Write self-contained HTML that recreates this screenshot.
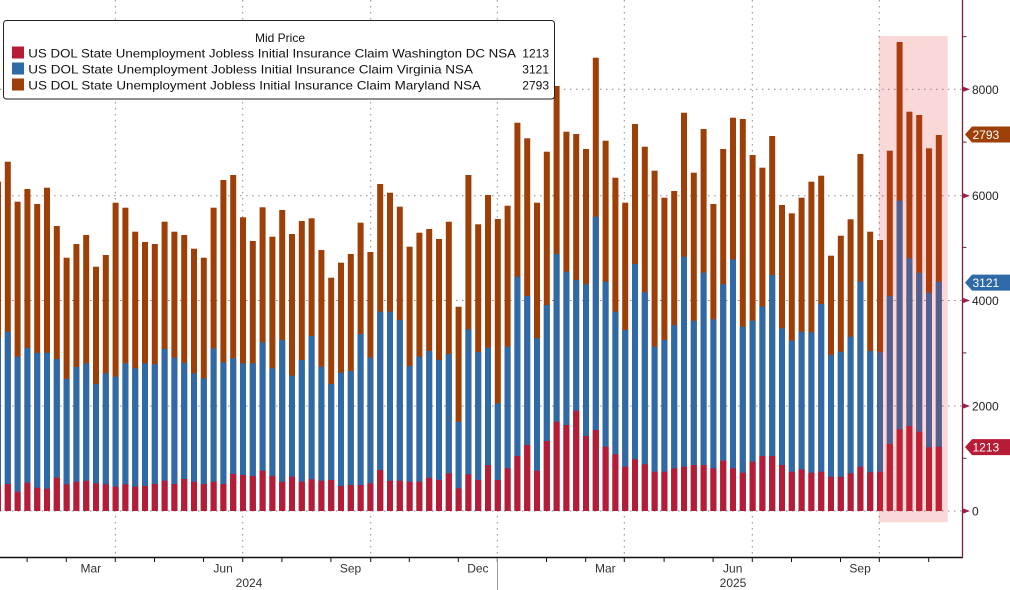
<!DOCTYPE html>
<html><head><meta charset="utf-8"><style>
html,body{margin:0;padding:0;background:#fff;}
svg{display:block;font-family:"Liberation Sans","DejaVu Sans",sans-serif;}
</style></head><body>
<svg width="1010" height="590" viewBox="0 0 1010 590" xmlns="http://www.w3.org/2000/svg">
<rect x="0" y="0" width="1010" height="590" fill="#fff"/>
<!-- gridlines -->
<g stroke="#8a8a8a" stroke-width="1" stroke-dasharray="1.5,4.5" fill="none">
<line x1="0" y1="89.3" x2="962" y2="89.3"/>
<line x1="0" y1="195.7" x2="962" y2="195.7"/>
<line x1="0" y1="300.5" x2="962" y2="300.5"/>
<line x1="0" y1="406" x2="962" y2="406"/>
<line x1="0" y1="511" x2="962" y2="511"/>
<line x1="115.3" y1="0" x2="115.3" y2="557"/>
<line x1="242.7" y1="0" x2="242.7" y2="557"/>
<line x1="370.7" y1="0" x2="370.7" y2="557"/>
<line x1="497.3" y1="0" x2="497.3" y2="557"/>
<line x1="624.3" y1="0" x2="624.3" y2="557"/>
<line x1="752.3" y1="0" x2="752.3" y2="557"/>
<line x1="879.3" y1="0" x2="879.3" y2="557"/>
</g>
<!-- Maryland (orange) full stacks -->
<g fill="#9e3f07">
<rect x="-5" y="181.7" width="6" height="329.3"/>
<rect x="4.8" y="161.7" width="6" height="349.3"/>
<rect x="14.6" y="201.7" width="6" height="309.3"/>
<rect x="24.4" y="189" width="6" height="322"/>
<rect x="34.2" y="204" width="6" height="307"/>
<rect x="44" y="187.7" width="6" height="323.3"/>
<rect x="53.8" y="226" width="6" height="285"/>
<rect x="63.6" y="257.7" width="6" height="253.3"/>
<rect x="73.4" y="244" width="6" height="267"/>
<rect x="83.2" y="235" width="6" height="276"/>
<rect x="93" y="266.7" width="6" height="244.3"/>
<rect x="102.8" y="255" width="6" height="256"/>
<rect x="112.6" y="202.7" width="6" height="308.3"/>
<rect x="122.4" y="207.7" width="6" height="303.3"/>
<rect x="132.2" y="231.7" width="6" height="279.3"/>
<rect x="142" y="242" width="6" height="269"/>
<rect x="151.8" y="244" width="6" height="267"/>
<rect x="161.6" y="221.7" width="6" height="289.3"/>
<rect x="171.4" y="231.7" width="6" height="279.3"/>
<rect x="181.2" y="235" width="6" height="276"/>
<rect x="191" y="248.7" width="6" height="262.3"/>
<rect x="200.8" y="257.7" width="6" height="253.3"/>
<rect x="210.6" y="207.7" width="6" height="303.3"/>
<rect x="220.4" y="180" width="6" height="331"/>
<rect x="230.2" y="175" width="6" height="336"/>
<rect x="240" y="217.3" width="6" height="293.7"/>
<rect x="249.8" y="241" width="6" height="270"/>
<rect x="259.6" y="207.3" width="6" height="303.7"/>
<rect x="269.4" y="236.7" width="6" height="274.3"/>
<rect x="279.2" y="210" width="6" height="301"/>
<rect x="289" y="234" width="6" height="277"/>
<rect x="298.8" y="221" width="6" height="290"/>
<rect x="308.6" y="218.3" width="6" height="292.7"/>
<rect x="318.4" y="250" width="6" height="261"/>
<rect x="328.2" y="277.7" width="6" height="233.3"/>
<rect x="338" y="262.7" width="6" height="248.3"/>
<rect x="347.8" y="254" width="6" height="257"/>
<rect x="357.6" y="222.7" width="6" height="288.3"/>
<rect x="367.4" y="252" width="6" height="259"/>
<rect x="377.2" y="184" width="6" height="327"/>
<rect x="387" y="192.7" width="6" height="318.3"/>
<rect x="396.8" y="206.7" width="6" height="304.3"/>
<rect x="406.6" y="246.7" width="6" height="264.3"/>
<rect x="416.4" y="232.7" width="6" height="278.3"/>
<rect x="426.2" y="229" width="6" height="282"/>
<rect x="436" y="239" width="6" height="272"/>
<rect x="445.8" y="221.7" width="6" height="289.3"/>
<rect x="455.6" y="306.7" width="6" height="204.3"/>
<rect x="465.4" y="175" width="6" height="336"/>
<rect x="475.2" y="224.3" width="6" height="286.7"/>
<rect x="485" y="195" width="6" height="316"/>
<rect x="494.8" y="219" width="6" height="292"/>
<rect x="504.6" y="205.7" width="6" height="305.3"/>
<rect x="514.4" y="122.7" width="6" height="388.3"/>
<rect x="524.2" y="138.3" width="6" height="372.7"/>
<rect x="534" y="202.7" width="6" height="308.3"/>
<rect x="543.8" y="151.7" width="6" height="359.3"/>
<rect x="553.6" y="86" width="6" height="425"/>
<rect x="563.4" y="131.7" width="6" height="379.3"/>
<rect x="573.2" y="134" width="6" height="377"/>
<rect x="583" y="149" width="6" height="362"/>
<rect x="592.8" y="57.7" width="6" height="453.3"/>
<rect x="602.6" y="140.7" width="6" height="370.3"/>
<rect x="612.4" y="177.7" width="6" height="333.3"/>
<rect x="622.2" y="202.7" width="6" height="308.3"/>
<rect x="632" y="124" width="6" height="387"/>
<rect x="641.8" y="146.7" width="6" height="364.3"/>
<rect x="651.6" y="170.7" width="6" height="340.3"/>
<rect x="661.4" y="197.7" width="6" height="313.3"/>
<rect x="671.2" y="191" width="6" height="320"/>
<rect x="681" y="112.7" width="6" height="398.3"/>
<rect x="690.8" y="172.7" width="6" height="338.3"/>
<rect x="700.6" y="129" width="6" height="382"/>
<rect x="710.4" y="204" width="6" height="307"/>
<rect x="720.2" y="149" width="6" height="362"/>
<rect x="730" y="117.7" width="6" height="393.3"/>
<rect x="739.8" y="119" width="6" height="392"/>
<rect x="749.6" y="155" width="6" height="356"/>
<rect x="759.4" y="167.7" width="6" height="343.3"/>
<rect x="769.2" y="136" width="6" height="375"/>
<rect x="779" y="205" width="6" height="306"/>
<rect x="788.8" y="213.3" width="6" height="297.7"/>
<rect x="798.6" y="197.7" width="6" height="313.3"/>
<rect x="808.4" y="181.7" width="6" height="329.3"/>
<rect x="818.2" y="175.7" width="6" height="335.3"/>
<rect x="828" y="255.7" width="6" height="255.3"/>
<rect x="837.8" y="235.7" width="6" height="275.3"/>
<rect x="847.6" y="219.3" width="6" height="291.7"/>
<rect x="857.4" y="154" width="6" height="357"/>
<rect x="867.2" y="231.7" width="6" height="279.3"/>
<rect x="877" y="240" width="6" height="271"/>
<rect x="886.8" y="150.7" width="6" height="360.3"/>
<rect x="896.6" y="42" width="6" height="469"/>
<rect x="906.4" y="111.7" width="6" height="399.3"/>
<rect x="916.2" y="115" width="6" height="396"/>
<rect x="926" y="148.3" width="6" height="362.7"/>
<rect x="935.8" y="135" width="6" height="376"/>
</g>
<!-- Virginia (blue) -->
<g fill="#2f6aa8">
<rect x="-5" y="338.3" width="6" height="172.7"/>
<rect x="4.8" y="331.7" width="6" height="179.3"/>
<rect x="14.6" y="356.7" width="6" height="154.3"/>
<rect x="24.4" y="348" width="6" height="163"/>
<rect x="34.2" y="352.7" width="6" height="158.3"/>
<rect x="44" y="352.7" width="6" height="158.3"/>
<rect x="53.8" y="359" width="6" height="152"/>
<rect x="63.6" y="379" width="6" height="132"/>
<rect x="73.4" y="367" width="6" height="144"/>
<rect x="83.2" y="363.3" width="6" height="147.7"/>
<rect x="93" y="384" width="6" height="127"/>
<rect x="102.8" y="373.3" width="6" height="137.7"/>
<rect x="112.6" y="376.7" width="6" height="134.3"/>
<rect x="122.4" y="363.3" width="6" height="147.7"/>
<rect x="132.2" y="368.3" width="6" height="142.7"/>
<rect x="142" y="363.3" width="6" height="147.7"/>
<rect x="151.8" y="364.3" width="6" height="146.7"/>
<rect x="161.6" y="349" width="6" height="162"/>
<rect x="171.4" y="357.7" width="6" height="153.3"/>
<rect x="181.2" y="362.7" width="6" height="148.3"/>
<rect x="191" y="373.3" width="6" height="137.7"/>
<rect x="200.8" y="378.3" width="6" height="132.7"/>
<rect x="210.6" y="348.3" width="6" height="162.7"/>
<rect x="220.4" y="362.3" width="6" height="148.7"/>
<rect x="230.2" y="358.3" width="6" height="152.7"/>
<rect x="240" y="363.3" width="6" height="147.7"/>
<rect x="249.8" y="363.3" width="6" height="147.7"/>
<rect x="259.6" y="342.3" width="6" height="168.7"/>
<rect x="269.4" y="368.3" width="6" height="142.7"/>
<rect x="279.2" y="340" width="6" height="171"/>
<rect x="289" y="375.7" width="6" height="135.3"/>
<rect x="298.8" y="360" width="6" height="151"/>
<rect x="308.6" y="336" width="6" height="175"/>
<rect x="318.4" y="366.7" width="6" height="144.3"/>
<rect x="328.2" y="384" width="6" height="127"/>
<rect x="338" y="372.7" width="6" height="138.3"/>
<rect x="347.8" y="371" width="6" height="140"/>
<rect x="357.6" y="334" width="6" height="177"/>
<rect x="367.4" y="357.7" width="6" height="153.3"/>
<rect x="377.2" y="311.7" width="6" height="199.3"/>
<rect x="387" y="311.7" width="6" height="199.3"/>
<rect x="396.8" y="320" width="6" height="191"/>
<rect x="406.6" y="366" width="6" height="145"/>
<rect x="416.4" y="356.7" width="6" height="154.3"/>
<rect x="426.2" y="351" width="6" height="160"/>
<rect x="436" y="360" width="6" height="151"/>
<rect x="445.8" y="354" width="6" height="157"/>
<rect x="455.6" y="421.7" width="6" height="89.3"/>
<rect x="465.4" y="329.3" width="6" height="181.7"/>
<rect x="475.2" y="352" width="6" height="159"/>
<rect x="485" y="347.7" width="6" height="163.3"/>
<rect x="494.8" y="403.3" width="6" height="107.7"/>
<rect x="504.6" y="346.7" width="6" height="164.3"/>
<rect x="514.4" y="276.7" width="6" height="234.3"/>
<rect x="524.2" y="296" width="6" height="215"/>
<rect x="534" y="338.3" width="6" height="172.7"/>
<rect x="543.8" y="305" width="6" height="206"/>
<rect x="553.6" y="254" width="6" height="257"/>
<rect x="563.4" y="271.7" width="6" height="239.3"/>
<rect x="573.2" y="280" width="6" height="231"/>
<rect x="583" y="284.3" width="6" height="226.7"/>
<rect x="592.8" y="216.7" width="6" height="294.3"/>
<rect x="602.6" y="281.7" width="6" height="229.3"/>
<rect x="612.4" y="311.7" width="6" height="199.3"/>
<rect x="622.2" y="330" width="6" height="181"/>
<rect x="632" y="264" width="6" height="247"/>
<rect x="641.8" y="292.3" width="6" height="218.7"/>
<rect x="651.6" y="346.7" width="6" height="164.3"/>
<rect x="661.4" y="340" width="6" height="171"/>
<rect x="671.2" y="325" width="6" height="186"/>
<rect x="681" y="256.7" width="6" height="254.3"/>
<rect x="690.8" y="320.7" width="6" height="190.3"/>
<rect x="700.6" y="272.7" width="6" height="238.3"/>
<rect x="710.4" y="319.3" width="6" height="191.7"/>
<rect x="720.2" y="284.3" width="6" height="226.7"/>
<rect x="730" y="259.3" width="6" height="251.7"/>
<rect x="739.8" y="326.7" width="6" height="184.3"/>
<rect x="749.6" y="320.7" width="6" height="190.3"/>
<rect x="759.4" y="306.7" width="6" height="204.3"/>
<rect x="769.2" y="275" width="6" height="236"/>
<rect x="779" y="328.3" width="6" height="182.7"/>
<rect x="788.8" y="340.7" width="6" height="170.3"/>
<rect x="798.6" y="331.7" width="6" height="179.3"/>
<rect x="808.4" y="332.3" width="6" height="178.7"/>
<rect x="818.2" y="304" width="6" height="207"/>
<rect x="828" y="355" width="6" height="156"/>
<rect x="837.8" y="351.7" width="6" height="159.3"/>
<rect x="847.6" y="336.7" width="6" height="174.3"/>
<rect x="857.4" y="281.7" width="6" height="229.3"/>
<rect x="867.2" y="351" width="6" height="160"/>
<rect x="877" y="352.3" width="6" height="158.7"/>
<rect x="886.8" y="296" width="6" height="215"/>
<rect x="896.6" y="200.7" width="6" height="310.3"/>
<rect x="906.4" y="258.3" width="6" height="252.7"/>
<rect x="916.2" y="272.7" width="6" height="238.3"/>
<rect x="926" y="292.7" width="6" height="218.3"/>
<rect x="935.8" y="281.7" width="6" height="229.3"/>
</g>
<!-- Washington DC (red) -->
<g fill="#b71c36">
<rect x="-5" y="485" width="6" height="26"/>
<rect x="4.8" y="484" width="6" height="27"/>
<rect x="14.6" y="491.7" width="6" height="19.3"/>
<rect x="24.4" y="482.7" width="6" height="28.3"/>
<rect x="34.2" y="487.7" width="6" height="23.3"/>
<rect x="44" y="488.7" width="6" height="22.3"/>
<rect x="53.8" y="477.7" width="6" height="33.3"/>
<rect x="63.6" y="484.3" width="6" height="26.7"/>
<rect x="73.4" y="481.7" width="6" height="29.3"/>
<rect x="83.2" y="480.7" width="6" height="30.3"/>
<rect x="93" y="483.3" width="6" height="27.7"/>
<rect x="102.8" y="484.3" width="6" height="26.7"/>
<rect x="112.6" y="486.7" width="6" height="24.3"/>
<rect x="122.4" y="484.3" width="6" height="26.7"/>
<rect x="132.2" y="486.7" width="6" height="24.3"/>
<rect x="142" y="486" width="6" height="25"/>
<rect x="151.8" y="484" width="6" height="27"/>
<rect x="161.6" y="480.7" width="6" height="30.3"/>
<rect x="171.4" y="484" width="6" height="27"/>
<rect x="181.2" y="479" width="6" height="32"/>
<rect x="191" y="481.7" width="6" height="29.3"/>
<rect x="200.8" y="484" width="6" height="27"/>
<rect x="210.6" y="481.7" width="6" height="29.3"/>
<rect x="220.4" y="484" width="6" height="27"/>
<rect x="230.2" y="474" width="6" height="37"/>
<rect x="240" y="475" width="6" height="36"/>
<rect x="249.8" y="476" width="6" height="35"/>
<rect x="259.6" y="470.7" width="6" height="40.3"/>
<rect x="269.4" y="476" width="6" height="35"/>
<rect x="279.2" y="481.7" width="6" height="29.3"/>
<rect x="289" y="476.7" width="6" height="34.3"/>
<rect x="298.8" y="481.7" width="6" height="29.3"/>
<rect x="308.6" y="479.3" width="6" height="31.7"/>
<rect x="318.4" y="480.7" width="6" height="30.3"/>
<rect x="328.2" y="480" width="6" height="31"/>
<rect x="338" y="486" width="6" height="25"/>
<rect x="347.8" y="485" width="6" height="26"/>
<rect x="357.6" y="485" width="6" height="26"/>
<rect x="367.4" y="483.3" width="6" height="27.7"/>
<rect x="377.2" y="470" width="6" height="41"/>
<rect x="387" y="480.7" width="6" height="30.3"/>
<rect x="396.8" y="480.7" width="6" height="30.3"/>
<rect x="406.6" y="481.7" width="6" height="29.3"/>
<rect x="416.4" y="481.7" width="6" height="29.3"/>
<rect x="426.2" y="477.7" width="6" height="33.3"/>
<rect x="436" y="480" width="6" height="31"/>
<rect x="445.8" y="473.3" width="6" height="37.7"/>
<rect x="455.6" y="488.3" width="6" height="22.7"/>
<rect x="465.4" y="474.3" width="6" height="36.7"/>
<rect x="475.2" y="480" width="6" height="31"/>
<rect x="485" y="465" width="6" height="46"/>
<rect x="494.8" y="480" width="6" height="31"/>
<rect x="504.6" y="468.3" width="6" height="42.7"/>
<rect x="514.4" y="456" width="6" height="55"/>
<rect x="524.2" y="445" width="6" height="66"/>
<rect x="534" y="470.7" width="6" height="40.3"/>
<rect x="543.8" y="441" width="6" height="70"/>
<rect x="553.6" y="421.7" width="6" height="89.3"/>
<rect x="563.4" y="425" width="6" height="86"/>
<rect x="573.2" y="410.7" width="6" height="100.3"/>
<rect x="583" y="436" width="6" height="75"/>
<rect x="592.8" y="430" width="6" height="81"/>
<rect x="602.6" y="446.7" width="6" height="64.3"/>
<rect x="612.4" y="454.3" width="6" height="56.7"/>
<rect x="622.2" y="466.7" width="6" height="44.3"/>
<rect x="632" y="459.3" width="6" height="51.7"/>
<rect x="641.8" y="464.3" width="6" height="46.7"/>
<rect x="651.6" y="471.7" width="6" height="39.3"/>
<rect x="661.4" y="471.7" width="6" height="39.3"/>
<rect x="671.2" y="468.3" width="6" height="42.7"/>
<rect x="681" y="466.7" width="6" height="44.3"/>
<rect x="690.8" y="465" width="6" height="46"/>
<rect x="700.6" y="465" width="6" height="46"/>
<rect x="710.4" y="468.3" width="6" height="42.7"/>
<rect x="720.2" y="460.7" width="6" height="50.3"/>
<rect x="730" y="468.3" width="6" height="42.7"/>
<rect x="739.8" y="472.7" width="6" height="38.3"/>
<rect x="749.6" y="461.7" width="6" height="49.3"/>
<rect x="759.4" y="456" width="6" height="55"/>
<rect x="769.2" y="456" width="6" height="55"/>
<rect x="779" y="465" width="6" height="46"/>
<rect x="788.8" y="471.7" width="6" height="39.3"/>
<rect x="798.6" y="469.3" width="6" height="41.7"/>
<rect x="808.4" y="472.7" width="6" height="38.3"/>
<rect x="818.2" y="471.7" width="6" height="39.3"/>
<rect x="828" y="476.7" width="6" height="34.3"/>
<rect x="837.8" y="476.7" width="6" height="34.3"/>
<rect x="847.6" y="473.3" width="6" height="37.7"/>
<rect x="857.4" y="466.7" width="6" height="44.3"/>
<rect x="867.2" y="472.3" width="6" height="38.7"/>
<rect x="877" y="471.7" width="6" height="39.3"/>
<rect x="886.8" y="444" width="6" height="67"/>
<rect x="896.6" y="429.3" width="6" height="81.7"/>
<rect x="906.4" y="426" width="6" height="85"/>
<rect x="916.2" y="431.7" width="6" height="79.3"/>
<rect x="926" y="447.3" width="6" height="63.7"/>
<rect x="935.8" y="446.7" width="6" height="64.3"/>
</g>
<!-- highlight shading -->
<rect x="878.7" y="36" width="69" height="486.3" fill="rgb(232,50,50)" fill-opacity="0.19"/>
<!-- legend -->
<rect x="3.5" y="20.5" width="551" height="78.5" rx="3" ry="3" fill="#fff" stroke="#222" stroke-width="1"/>
<text x="280" y="42" font-size="12" fill="#111" text-anchor="middle">Mid Price</text>
<rect x="12" y="46.5" width="12" height="12" fill="#b71c36"/>
<rect x="12" y="62.5" width="12" height="12" fill="#2f6aa8"/>
<rect x="12" y="78.5" width="12" height="12" fill="#9e3f07"/>
<g font-size="12" fill="#111">
<text x="28.3" y="57.3" textLength="487.7" lengthAdjust="spacingAndGlyphs">US DOL State Unemployment Jobless Initial Insurance Claim Washington DC NSA</text>
<text x="28.3" y="73.3" textLength="444.7" lengthAdjust="spacingAndGlyphs">US DOL State Unemployment Jobless Initial Insurance Claim Virginia NSA</text>
<text x="28.3" y="89.3" textLength="452.7" lengthAdjust="spacingAndGlyphs">US DOL State Unemployment Jobless Initial Insurance Claim Maryland NSA</text>
<text x="549" y="57.3" text-anchor="end">1213</text>
<text x="549" y="73.3" text-anchor="end">3121</text>
<text x="549" y="89.3" text-anchor="end">2793</text>
</g>
<!-- axes -->
<line x1="0" y1="557.5" x2="963" y2="557.5" stroke="#111" stroke-width="1.5"/>
<line x1="962.5" y1="0" x2="962.5" y2="558" stroke="#7a1f40" stroke-width="1.3"/>
<!-- bottom ticks -->
<g stroke="#111" stroke-width="1">
<line x1="27.1" y1="557" x2="27.1" y2="562"/>
<line x1="66.3" y1="557" x2="66.3" y2="562"/>
<line x1="115.3" y1="557" x2="115.3" y2="562"/>
<line x1="154.5" y1="557" x2="154.5" y2="562"/>
<line x1="203.5" y1="557" x2="203.5" y2="562"/>
<line x1="242.7" y1="557" x2="242.7" y2="562"/>
<line x1="281.9" y1="557" x2="281.9" y2="562"/>
<line x1="330.9" y1="557" x2="330.9" y2="562"/>
<line x1="370.7" y1="557" x2="370.7" y2="562"/>
<line x1="409.3" y1="557" x2="409.3" y2="562"/>
<line x1="458.3" y1="557" x2="458.3" y2="562"/>
<line x1="497.3" y1="557" x2="497.3" y2="562"/>
<line x1="546.5" y1="557" x2="546.5" y2="562"/>
<line x1="585.7" y1="557" x2="585.7" y2="562"/>
<line x1="624.3" y1="557" x2="624.3" y2="562"/>
<line x1="664.1" y1="557" x2="664.1" y2="562"/>
<line x1="713.1" y1="557" x2="713.1" y2="562"/>
<line x1="752.3" y1="557" x2="752.3" y2="562"/>
<line x1="791.5" y1="557" x2="791.5" y2="562"/>
<line x1="840.5" y1="557" x2="840.5" y2="562"/>
<line x1="879.3" y1="557" x2="879.3" y2="562"/>
<line x1="928.7" y1="557" x2="928.7" y2="562"/>
</g>
<line x1="497.5" y1="558" x2="497.5" y2="590" stroke="#9a9a9a" stroke-width="1"/>
<g font-size="12" fill="#333" text-anchor="middle">
<text x="90.8" y="572.7">Mar</text>
<text x="223.1" y="572.7">Jun</text>
<text x="350.5" y="572.7">Sep</text>
<text x="477.9" y="572.7">Dec</text>
<text x="605.3" y="572.7">Mar</text>
<text x="732.7" y="572.7">Jun</text>
<text x="860.1" y="572.7">Sep</text>
<text x="249" y="587">2024</text>
<text x="733" y="587">2025</text>
</g>
<!-- right axis ticks -->
<g fill="#9b1f4a">
<polygon points="962,508 970,511 962,514"/>
<polygon points="962,403 970,406 962,409"/>
<polygon points="962,297.5 970,300.5 962,303.5"/>
<polygon points="962,192.7 970,195.7 962,198.7"/>
<polygon points="962,86.3 970,89.3 962,92.3"/>
</g>
<g stroke="#7a1f40" stroke-width="1">
<line x1="962.5" y1="458.3" x2="966.5" y2="458.3"/>
<line x1="962.5" y1="352.9" x2="966.5" y2="352.9"/>
<line x1="962.5" y1="247.4" x2="966.5" y2="247.4"/>
<line x1="962.5" y1="142.1" x2="966.5" y2="142.1"/>
<line x1="962.5" y1="36.6" x2="966.5" y2="36.6"/>
</g>
<g font-size="12" fill="#222">
<text x="972" y="515.5">0</text>
<text x="972" y="410.5">2000</text>
<text x="972" y="305">4000</text>
<text x="972" y="200.2">6000</text>
<text x="972" y="93.8">8000</text>
</g>
<!-- value tags -->
<polygon points="965,134.5 972,126.5 1010,126.5 1010,142.5 972,142.5" fill="#9e3f07"/>
<polygon points="965,282.6 972,274.6 1010,274.6 1010,290.6 972,290.6" fill="#2f6aa8"/>
<polygon points="965,447.1 972,439.1 1010,439.1 1010,455.1 972,455.1" fill="#b71c36"/>
<g font-size="12" fill="#fff">
<text x="972.5" y="139">2793</text>
<text x="972.5" y="287.1">3121</text>
<text x="972.5" y="451.6">1213</text>
</g>
</svg>
</body></html>
